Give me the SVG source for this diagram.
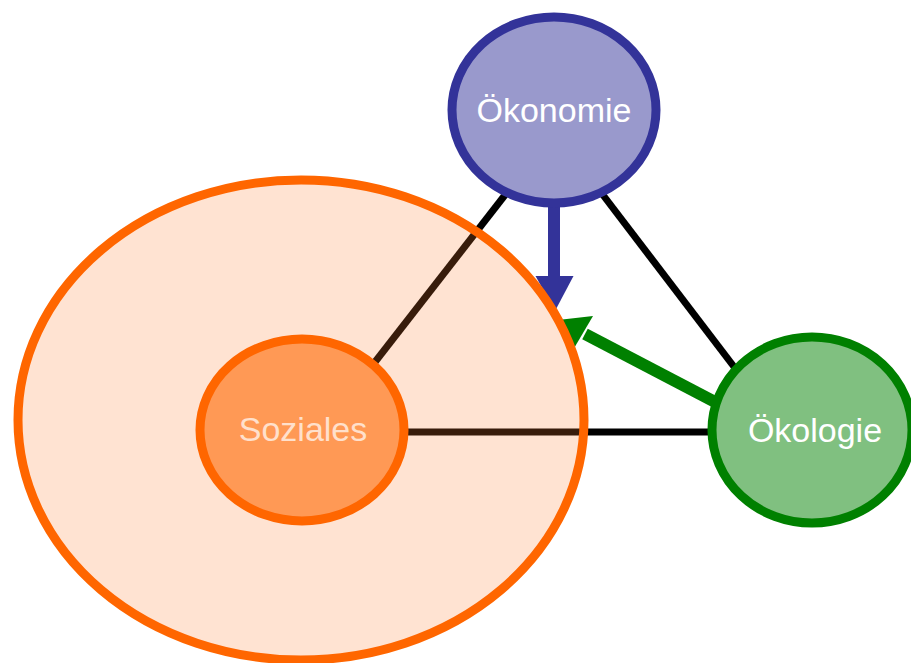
<svg xmlns="http://www.w3.org/2000/svg" width="911" height="663" viewBox="0 0 911 663">
<style>
.lbl{font-family:"Liberation Sans",Arial,sans-serif;font-size:34px;text-anchor:middle}
.ln{stroke:#000;stroke-width:7;fill:none}
.node{stroke-width:9}
</style>
<rect width="911" height="663" fill="#fff"/>
<g id="connectors">
<line class="ln" x1="505" y1="195" x2="375" y2="362"/>
<line class="ln" x1="603" y1="195" x2="738" y2="372"/>
<line class="ln" x1="400" y1="432" x2="715" y2="432"/>
<line x1="554" y1="205" x2="554" y2="278" stroke="#333399" stroke-width="12"/>
<polygon points="535.5,276 573.5,276 555,311" fill="#333399"/>
<line x1="717" y1="403" x2="585" y2="334" stroke="#008000" stroke-width="12"/>
<polygon points="593,316 573,350 558,320" fill="#008000"/>
</g>
<g id="umfeld">
<ellipse cx="301" cy="420" rx="283" ry="240" fill="#FF8033" fill-opacity="0.22" stroke="#FF6600" stroke-width="9"/>
</g>
<g id="soziales">
<ellipse class="node" cx="302" cy="430" rx="102" ry="91" fill="#FF9955" stroke="#FF6600"/>
<text class="lbl" x="303" y="441" fill="#FFE0CC">Soziales</text>
</g>
<g id="oekonomie">
<ellipse class="node" cx="554" cy="110" rx="102" ry="93" fill="#9999CC" stroke="#333399"/>
<text class="lbl" x="554" y="122" fill="#fff">Ökonomie</text>
</g>
<g id="oekologie">
<ellipse class="node" cx="812" cy="430" rx="100" ry="93" fill="#80C080" stroke="#008000"/>
<text class="lbl" x="815" y="442" fill="#fff">Ökologie</text>
</g>
</svg>
